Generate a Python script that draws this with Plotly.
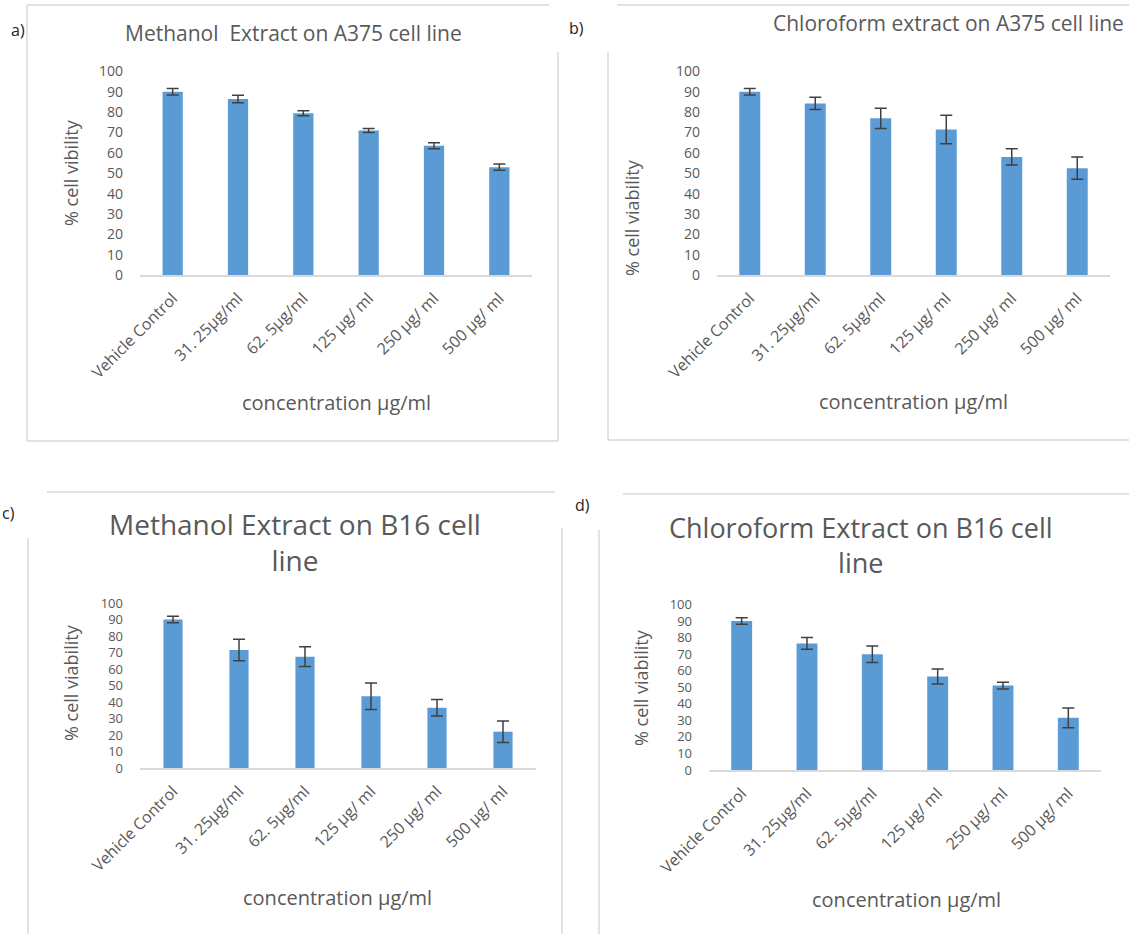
import plotly.graph_objects as go

W, H = 1129, 934

categories = ["Vehicle Control", "31. 25µg/ml", "62. 5µg/ml", "125 µg/ ml", "250 µg/ ml", "500 µg/ ml"]

a_vals = [90, 86.5, 79.5, 71, 63.5, 53]
a_err = [1.6, 1.8, 1.2, 1.0, 1.5, 1.5]
b_vals = [90, 84.3, 77, 71.5, 58, 52.5]
b_err = [1.6, 3, 5, 7, 4, 5.5]
c_vals = [90, 71.5, 67.5, 43.5, 36.5, 22]
c_err = [2, 6.5, 6, 8, 5, 6.5]
d_vals = [90, 76.5, 70, 56.5, 51, 31.5]
d_err = [2, 3.5, 5, 4.5, 2, 6]

titles = ["Methanol  Extract on A375 cell line",
          "Chloroform extract on A375 cell line",
          "Methanol Extract on B16 cell<br>line",
          "Chloroform Extract on B16 cell<br>line"]
ytitles = ["% cell vibility", "% cell viability", "% cell viability", "% cell viability"]
xtitle = "concentration µg/ml"
panel_labels = ["a)", "b)", "c)", "d)"]

FONT = "Open Sans"
GRAY = "#595959"
BLUE = "#5B9BD5"
FRAME = "#D9D9D9"


def X(px):
    return px / W


def Y(py):
    return 1 - py / H


# panel geometry in pixels: x-left, x-right, y of 0, y of 100, bar width, tick font size
geo = [
    (140, 532, 275, 71.5, 0.31, 14),
    (717, 1110, 275, 71.5, 0.32, 14),
    (140, 536, 768, 603, 0.29, 13),
    (709, 1101, 770, 604.5, 0.32, 13),
]
series = [(a_vals, a_err), (b_vals, b_err), (c_vals, c_err), (d_vals, d_err)]

fig = go.Figure()
for i, ((vals, err), (x0, x1, y0, y1, bw, yfs)) in enumerate(zip(series, geo)):
    n = "" if i == 0 else str(i + 1)
    fig.add_trace(go.Bar(
        x=categories, y=vals, width=bw,
        marker=dict(color=BLUE, line=dict(width=0)),
        error_y=dict(type="data", array=err, visible=True, color="#404040", thickness=1.5, width=6),
        xaxis="x" + n, yaxis="y" + n, showlegend=False, hoverinfo="skip",
    ))
    fig.update_layout(**{
        "xaxis" + n: dict(domain=[X(x0), X(x1)], anchor="y" + n, type="category",
                          showline=True, linecolor=FRAME, linewidth=1.5, ticks="",
                          tickangle=-45, tickfont=dict(family=FONT, size=16, color=GRAY),
                          showgrid=False, zeroline=False, ticklabelstandoff=6,
                          automargin=False),
        "yaxis" + n: dict(domain=[Y(y0), Y(y1)], anchor="x" + n, range=[0, 100], dtick=10,
                          showline=False, showgrid=False, zeroline=False, ticks="",
                          tickfont=dict(family=FONT, size=yfs, color=GRAY),
                          ticklabelstandoff=16, automargin=False),
    })

ann = []
# titles
ann.append(dict(x=X(293), y=Y(33), text=titles[0], font=dict(family=FONT, size=21, color=GRAY)))
ann.append(dict(x=X(948), y=Y(23), text=titles[1], font=dict(family=FONT, size=21, color=GRAY)))
ann.append(dict(x=X(295), y=Y(542), text=titles[2], font=dict(family=FONT, size=28, color=GRAY)))
ann.append(dict(x=X(861), y=Y(545), text=titles[3], font=dict(family=FONT, size=27, color=GRAY)))
# y titles
for (xp, yp), t in zip([(71, 173), (632, 218), (71, 683), (641, 688)], ytitles):
    ann.append(dict(x=X(xp), y=Y(yp), text=t, textangle=-90,
                    font=dict(family=FONT, size=18, color=GRAY)))
# x titles
for xp, yp in [(336, 403), (913, 402), (337, 897), (906, 899)]:
    ann.append(dict(x=X(xp), y=Y(yp), text=xtitle, font=dict(family=FONT, size=20, color=GRAY)))
# panel labels
for (xp, yp), t in zip([(18, 30), (576, 28), (8, 513), (582, 505)], panel_labels):
    ann.append(dict(x=X(xp), y=Y(yp), text=t, font=dict(family=FONT, size=16, color="#222222")))

for a in ann:
    a.update(xref="paper", yref="paper", showarrow=False, xanchor="center", yanchor="middle")

lines = [
    # panel a
    (27, 5, 549, 5), (27, 5, 27, 441), (27, 441, 558, 441), (558, 52, 558, 441),
    # panel b
    (617, 5, 1129, 5), (608, 52, 608, 440), (608, 440, 1129, 440),
    # panel c
    (47, 492, 555, 492), (28, 538, 28, 934), (562, 528, 562, 934),
    # panel d
    (623, 494, 1129, 494), (599, 530, 599, 934),
]
shapes = [dict(type="line", xref="paper", yref="paper", x0=X(a), y0=Y(b), x1=X(c), y1=Y(d),
               line=dict(color=FRAME, width=1.5)) for a, b, c, d in lines]

fig.update_layout(width=W, height=H, autosize=False, margin=dict(l=0, r=0, t=0, b=0, pad=0),
                  paper_bgcolor="white", plot_bgcolor="white", showlegend=False,
                  annotations=ann, shapes=shapes, bargap=0.7)

fig.write_html("out.html", config={"displayModeBar": False},
               post_script="document.body.style.margin='0px';")
